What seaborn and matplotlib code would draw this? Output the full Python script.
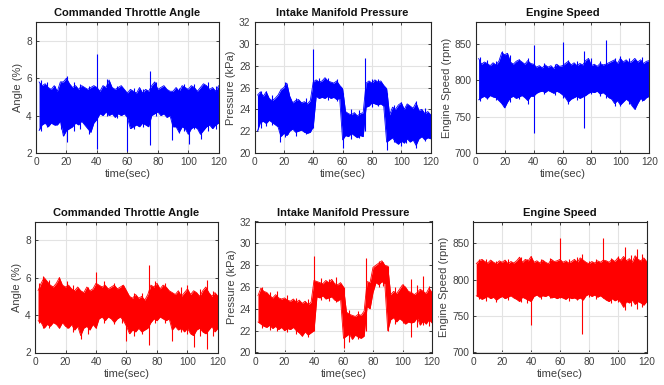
"""
plot.py
Engine idle signals, two test runs (blue = run 1, red = run 2):
throttle angle, intake manifold pressure and engine speed over 120 s.
The noisy traces are drawn as the band between the read-off lower and
upper envelopes, plus the single-sample spikes read off the picture.
"""

import numpy as np
import pandas as pd
import matplotlib
matplotlib.use("Agg")
import matplotlib.pyplot as plt
import seaborn as sns

# ── Data ──────────────────────────────────────────────────────────────────────
TIME = np.arange(2, 121, 2)   # envelope sample times (sec)

TPS_BLUE_HI = [5.8, 5.6, 5.7, 5.5, 5.4, 5.6, 5.3, 5.8, 5.8, 6.0,
               5.7, 5.5, 5.6, 5.4, 5.6, 5.5, 5.4, 5.5, 5.6, 5.5,
               5.3, 5.6, 5.5, 5.9, 5.5, 5.4, 5.5, 5.6, 5.4, 5.2,
               5.4, 5.3, 5.2, 5.5, 5.2, 5.4, 5.3, 5.6, 5.8, 5.4,
               5.5, 5.6, 5.4, 5.3, 5.3, 5.5, 5.3, 5.6, 5.5, 5.4,
               5.6, 5.5, 5.3, 5.5, 5.7, 5.6, 5.4, 5.5, 5.3, 5.6]
TPS_BLUE_LO = [3.2, 3.5, 3.6, 3.4, 3.6, 3.5, 3.5, 3.7, 2.9, 3.2,
               3.3, 3.4, 3.6, 3.5, 3.7, 3.5, 3.3, 3.1, 3.6, 3.8,
               4.1, 4.0, 4.2, 4.0, 4.1, 3.9, 4.1, 4.0, 4.1, 3.9,
               3.3, 3.4, 3.5, 3.4, 3.6, 3.5, 3.4, 4.0, 4.1, 4.2,
               4.0, 4.1, 3.9, 4.0, 3.4, 3.4, 3.1, 3.4, 3.3, 3.0,
               3.3, 3.4, 3.3, 3.0, 3.2, 3.4, 3.5, 3.3, 3.5, 3.6]
TPS_BLUE_SPIKE_T = [3, 7, 12.5, 16.5, 20.3, 25, 29, 34.5, 40, 46.5, 53, 60,
                    64.5, 70, 75, 78.5, 89.5, 94, 97, 100.5, 104, 108.5, 113, 118]
TPS_BLUE_SPIKE_LO = [3.2, 3.4, 3.5, 3.3, 2.6, 3.2, 3.3, 3.0, 2.2, 4.0, 3.85, 2.1,
                     3.3, 3.4, 2.45, 4.0, 2.7, 3.05, 3.2, 2.5, 3.3, 2.75, 3.2, 3.3]
TPS_BLUE_SPIKE_HI = [5.9, 5.8, 5.6, 5.8, 6.1, 5.8, 5.7, 5.6, 7.3, 5.95, 5.6, 5.2,
                     5.5, 5.4, 6.4, 5.8, 5.3, 5.5, 5.7, 5.3, 5.7, 5.4, 5.8, 5.6]

MAP_BLUE_HI = [25.3, 25.6, 25.2, 25.6, 25.0, 24.8, 25.0, 25.3, 25.8, 26.0,
               26.4, 25.2, 24.6, 24.8, 24.9, 24.6, 24.7, 24.5, 24.8, 26.5,
               26.7, 26.5, 26.6, 26.9, 26.6, 26.5, 26.4, 26.6, 26.2, 25.9,
               23.8, 23.6, 23.5, 23.7, 23.4, 23.6, 23.7, 26.4, 26.6, 26.4,
               26.7, 26.5, 26.6, 26.2, 25.9, 23.5, 24.2, 24.0, 24.4, 24.6,
               24.0, 24.5, 24.3, 24.1, 24.6, 23.9, 24.0, 23.6, 23.8, 23.5]
MAP_BLUE_LO = [22.0, 22.8, 22.9, 22.7, 23.0, 22.8, 22.6, 22.4, 21.5, 21.8,
               21.6, 22.0, 22.2, 21.9, 22.0, 22.1, 21.9, 21.8, 21.9, 22.4,
               25.2, 25.0, 25.1, 25.0, 25.2, 25.0, 25.1, 24.9, 25.0, 21.2,
               21.6, 21.5, 21.8, 21.6, 21.4, 21.6, 21.5, 24.2, 24.3, 24.6,
               24.5, 24.4, 24.5, 24.3, 21.0, 21.2, 21.4, 21.0, 20.8, 21.1,
               20.9, 21.3, 21.0, 21.2, 20.7, 21.3, 21.5, 21.2, 21.4, 21.3]
MAP_BLUE_SPIKE_T = [4.5, 8, 12, 17.5, 21, 23, 28, 35, 40, 44, 50, 56, 60, 66,
                    71, 75, 80, 84, 90, 95, 100, 103, 110, 116]
MAP_BLUE_SPIKE_LO = [22.3, 22.5, 22.6, 21.0, 21.5, 21.7, 21.6, 21.7, 22.3, 25.0,
                     24.9, 24.8, 20.5, 21.3, 21.4, 22.0, 24.2, 24.3, 20.3, 21.0,
                     20.6, 20.9, 20.5, 21.1]
MAP_BLUE_SPIKE_HI = [25.7, 25.7, 25.3, 25.5, 26.5, 25.5, 25.0, 25.0, 29.5, 26.9,
                     26.9, 26.8, 25.5, 24.0, 23.9, 28.7, 26.8, 26.8, 25.5, 24.4,
                     24.7, 24.3, 24.8, 24.1]

RPM_BLUE_HI = [830, 822, 825, 823, 820, 824, 821, 826, 838, 835,
               837, 825, 822, 826, 828, 825, 822, 827, 823, 822,
               818, 820, 817, 821, 818, 820, 816, 822, 819, 820,
               823, 826, 821, 824, 820, 823, 821, 827, 830, 820,
               822, 819, 823, 821, 822, 824, 826, 828, 823, 830,
               825, 828, 824, 826, 830, 825, 828, 823, 826, 827]
RPM_BLUE_LO = [773, 776, 778, 775, 779, 777, 776, 772, 768, 762,
               770, 776, 778, 775, 777, 779, 776, 772, 778, 778,
               782, 784, 785, 783, 786, 784, 782, 785, 783, 780,
               776, 770, 774, 776, 778, 775, 777, 779, 782, 784,
               783, 785, 781, 783, 780, 776, 774, 768, 772, 766,
               770, 774, 771, 765, 760, 768, 775, 772, 776, 778]
RPM_BLUE_SPIKE_T = [3, 8, 14, 18, 24, 30, 36, 40, 47, 55, 60, 64, 70, 75,
                    80, 86, 90, 96, 100, 106, 110, 115]
RPM_BLUE_SPIKE_LO = [772, 774, 773, 768, 770, 774, 768, 728, 781, 780, 775, 768,
                     773, 735, 781, 779, 775, 765, 764, 768, 760, 772]
RPM_BLUE_SPIKE_HI = [832, 828, 826, 840, 835, 829, 831, 849, 823, 822, 853, 828,
                     826, 840, 830, 826, 855, 831, 833, 830, 828, 832]

TPS_RED_HI = [5.3, 5.7, 6.0, 5.8, 5.6, 5.5, 5.7, 6.0, 5.6, 5.5,
              5.6, 5.4, 5.3, 5.5, 5.3, 5.2, 5.5, 5.3, 5.4, 5.7,
              5.6, 5.5, 5.6, 5.4, 5.5, 5.6, 5.4, 5.5, 5.6, 5.3,
              5.0, 4.9, 5.1, 4.9, 5.0, 4.8, 5.1, 5.6, 5.5, 5.7,
              5.4, 5.6, 5.5, 5.3, 5.2, 5.1, 5.3, 5.0, 5.2, 5.4,
              5.1, 5.3, 5.2, 5.0, 5.3, 5.5, 5.2, 5.0, 5.2, 5.0]
TPS_RED_LO = [3.7, 3.6, 3.3, 3.5, 3.4, 3.6, 3.5, 3.3, 3.6, 3.4,
              3.3, 3.5, 3.2, 3.4, 2.9, 3.3, 3.4, 3.2, 3.5, 3.3,
              3.8, 3.9, 3.7, 3.9, 3.8, 3.6, 3.8, 3.9, 3.7, 3.4,
              3.0, 3.2, 3.1, 3.3, 3.1, 3.2, 3.3, 3.6, 3.8, 3.7,
              3.9, 3.8, 3.7, 3.8, 3.2, 3.4, 3.2, 3.3, 3.1, 3.3,
              3.0, 2.9, 3.2, 3.3, 3.1, 3.0, 3.2, 3.4, 3.1, 3.3]
TPS_RED_SPIKE_T = [2.5, 5, 9, 16, 21, 25, 30, 35, 40, 45, 52, 57, 60, 65, 70,
                   75, 79, 85, 90, 96, 100, 104.5, 108, 113, 117]
TPS_RED_SPIKE_LO = [3.6, 3.3, 3.3, 3.3, 3.3, 3.1, 2.7, 3.0, 3.3, 3.6, 3.5, 3.6,
                    2.6, 2.9, 3.0, 2.4, 3.6, 3.6, 2.6, 3.1, 3.0, 2.3, 2.9, 2.2, 2.9]
TPS_RED_SPIKE_HI = [5.7, 6.1, 5.9, 6.05, 5.8, 5.6, 5.3, 5.5, 6.3, 5.8, 5.7, 5.6,
                    5.3, 5.2, 5.2, 6.7, 5.8, 5.7, 5.2, 5.5, 5.6, 5.3, 5.4, 5.9, 5.3]

MAP_RED_HI = [25.2, 25.9, 25.6, 25.5, 25.2, 25.0, 25.3, 25.0, 24.9, 25.0,
              24.8, 24.7, 24.9, 24.6, 24.8, 24.5, 24.7, 24.4, 24.6, 26.6,
              26.5, 26.4, 26.3, 26.6, 26.4, 26.7, 26.3, 26.2, 26.4, 26.0,
              23.7, 23.5, 23.4, 23.3, 23.5, 23.4, 23.8, 26.5, 26.4, 27.8,
              28.0, 28.2, 28.4, 28.0, 27.9, 25.3, 25.6, 25.4, 25.8, 26.2,
              26.0, 25.6, 25.5, 25.3, 25.5, 25.8, 25.6, 25.4, 25.9, 25.5]
MAP_RED_LO = [22.8, 22.6, 22.4, 22.3, 22.5, 22.2, 22.4, 22.1, 22.3, 22.0,
              22.2, 22.1, 22.3, 22.0, 21.8, 21.5, 21.9, 21.6, 21.8, 22.0,
              25.1, 25.0, 25.2, 24.9, 25.0, 25.1, 24.8, 24.7, 24.9, 21.3,
              21.5, 21.7, 21.2, 21.6, 21.4, 21.3, 21.5, 24.2, 24.0, 25.5,
              26.4, 26.2, 26.5, 26.3, 22.0, 23.0, 23.2, 22.8, 23.1, 22.9,
              22.6, 22.8, 22.7, 22.8, 23.2, 22.5, 22.9, 22.6, 23.0, 22.7]
MAP_RED_SPIKE_T = [5, 10, 15, 22, 28, 32, 36, 40, 45, 50, 55, 60, 64, 70, 75,
                   84, 87, 90, 95, 100, 105.5, 110, 114, 118]
MAP_RED_SPIKE_LO = [22.2, 22.1, 22.0, 21.9, 21.7, 21.5, 21.4, 22.0, 24.8, 24.7,
                    24.6, 20.4, 21.0, 21.2, 22.0, 26.0, 26.1, 22.0, 22.6, 22.7,
                    21.4, 22.3, 22.5, 22.4]
MAP_RED_SPIKE_HI = [26.0, 25.5, 25.6, 25.3, 25.0, 24.5, 24.9, 28.8, 26.8, 26.7,
                    26.9, 26.0, 23.9, 23.8, 28.7, 28.4, 28.3, 27.9, 26.0, 26.3,
                    26.7, 26.2, 27.0, 26.1]

RPM_RED_HI = [822, 826, 828, 825, 823, 827, 824, 822, 826, 824,
              827, 822, 825, 823, 826, 831, 824, 828, 826, 832,
              824, 826, 823, 827, 824, 822, 828, 825, 826, 828,
              824, 826, 823, 825, 828, 824, 830, 827, 824, 822,
              825, 823, 826, 824, 827, 826, 824, 828, 825, 830,
              827, 832, 826, 829, 824, 833, 828, 826, 830, 825]
RPM_RED_LO = [778, 776, 773, 775, 777, 774, 776, 772, 775, 777,
              774, 776, 778, 775, 773, 770, 776, 774, 772, 770,
              777, 779, 776, 778, 777, 779, 775, 776, 774, 776,
              775, 773, 776, 774, 775, 773, 775, 772, 778, 780,
              777, 779, 776, 778, 775, 772, 770, 774, 771, 773,
              769, 762, 770, 768, 772, 766, 770, 768, 765, 770]
RPM_RED_SPIKE_T = [4, 9, 16, 24, 33, 37, 40, 47, 53, 60, 66, 72, 75, 80, 85,
                   90, 95, 100, 105, 109, 113, 117]
RPM_RED_SPIKE_LO = [773, 771, 770, 772, 769, 768, 738, 774, 775, 775, 771, 772,
                    726, 776, 774, 775, 768, 769, 758, 764, 760, 763]
RPM_RED_SPIKE_HI = [829, 828, 826, 829, 831, 829, 833, 828, 830, 858, 829, 831,
                    835, 826, 828, 858, 830, 833, 845, 834, 842, 836]

TITLES  = ["Commanded Throttle Angle", "Intake Manifold Pressure", "Engine Speed"]
YLABELS = ["Angle (%)", "Pressure (kPa)", "Engine Speed (rpm)"]
YLIMS   = [(2, 9), (20, 32), (700, 880)]
YTICKS  = [[2, 4, 6, 8], [20, 22, 24, 26, 28, 30, 32], [700, 750, 800, 850]]
XTICKS  = [0, 20, 40, 60, 80, 100, 120]

BLUE, RED = "#0000ff", "#ff0000"
TXT = "#404040"

# ── Style ─────────────────────────────────────────────────────────────────────
sns.set_style("ticks")
plt.rcParams["font.family"] = ["Liberation Sans", "DejaVu Sans"]

# axes boxes in figure pixels: (left, right) per column, (top, bottom) per row
COLS = [[(36, 218.7), (254.5, 430.7), (475.7, 649.3)],
        [(35, 218.0), (255.0, 432.0), (473.3, 646.7)]]
ROWS = [(22, 153), (221.5, 352.5)]
W, H = 664, 385


def draw_panel(ax, lo, hi, spikes, color, k):
    df = pd.DataFrame({"time": TIME, "lo": lo, "hi": hi})
    ax.fill_between(df["time"], df["lo"], df["hi"], color=color, lw=0, zorder=2)
    sns.lineplot(data=df, x="time", y="hi", color=color, lw=0.6, ax=ax, zorder=3)
    sns.lineplot(data=df, x="time", y="lo", color=color, lw=0.6, ax=ax, zorder=3)
    st, slo, shi = spikes
    ax.vlines(st, slo, shi, color=color, lw=0.8, zorder=3)

    ax.set_xlim(0, 120); ax.set_ylim(*YLIMS[k])
    ax.set_xticks(XTICKS); ax.set_yticks(YTICKS[k])
    ax.grid(True, color="#e3e3e3", lw=0.8)
    ax.set_axisbelow(True)
    for s in ax.spines.values():
        s.set_visible(True); s.set_color("#262626"); s.set_linewidth(0.8)
    ax.tick_params(direction="in", top=True, right=True, length=2.5,
                   width=0.6, labelsize=7.3, colors="#262626",
                   labelcolor=TXT, pad=3)
    ax.set_title(TITLES[k], fontsize=8, fontweight="bold", color="#111111", pad=4)
    ax.set_xlabel("time(sec)", fontsize=8, color=TXT, labelpad=1.5)
    ax.set_ylabel(YLABELS[k], fontsize=8, color=TXT, labelpad=2)


fig = plt.figure(figsize=(W / 100, H / 100), dpi=100)

panels = [
    [(TPS_BLUE_LO, TPS_BLUE_HI, (TPS_BLUE_SPIKE_T, TPS_BLUE_SPIKE_LO, TPS_BLUE_SPIKE_HI)),
     (MAP_BLUE_LO, MAP_BLUE_HI, (MAP_BLUE_SPIKE_T, MAP_BLUE_SPIKE_LO, MAP_BLUE_SPIKE_HI)),
     (RPM_BLUE_LO, RPM_BLUE_HI, (RPM_BLUE_SPIKE_T, RPM_BLUE_SPIKE_LO, RPM_BLUE_SPIKE_HI))],
    [(TPS_RED_LO, TPS_RED_HI, (TPS_RED_SPIKE_T, TPS_RED_SPIKE_LO, TPS_RED_SPIKE_HI)),
     (MAP_RED_LO, MAP_RED_HI, (MAP_RED_SPIKE_T, MAP_RED_SPIKE_LO, MAP_RED_SPIKE_HI)),
     (RPM_RED_LO, RPM_RED_HI, (RPM_RED_SPIKE_T, RPM_RED_SPIKE_LO, RPM_RED_SPIKE_HI))],
]

for r, color in enumerate([BLUE, RED]):
    top, bot = ROWS[r]
    for k in range(3):
        x0, x1 = COLS[r][k]
        ax = fig.add_axes([x0 / W, 1 - bot / H, (x1 - x0) / W, (bot - top) / H])
        lo, hi, spikes = panels[r][k]
        draw_panel(ax, lo, hi, spikes, color, k)

fig.savefig("out.png", dpi=100, facecolor="white")
